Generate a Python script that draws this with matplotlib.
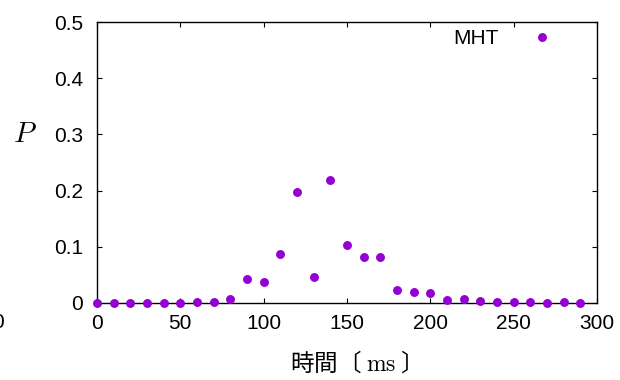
import matplotlib
matplotlib.use("Agg")
import matplotlib.pyplot as plt

plt.rcParams["font.family"] = ["Liberation Sans", "Noto Sans CJK JP", "DejaVu Sans"]
plt.rcParams["mathtext.fontset"] = "cm"

# sampled arrival time distribution (10 ms bins)
time_ms = [0, 10, 20, 30, 40, 50, 60, 70, 80, 90,
           100, 110, 120, 130, 140, 150, 160, 170, 180, 190,
           200, 210, 220, 230, 240, 250, 260, 270, 280, 290]
prob = [0.0, 0.0, 0.0, 0.0, 0.0, 0.0, 0.002, 0.001, 0.007, 0.043,
        0.038, 0.088, 0.197, 0.047, 0.219, 0.104, 0.081, 0.081, 0.023, 0.019,
        0.018, 0.006, 0.008, 0.003, 0.002, 0.002, 0.001, 0.0005, 0.001, 0.0]
series_name = "MHT"
x_ticks = [0, 50, 100, 150, 200, 250, 300]
y_ticks = [0, 0.1, 0.2, 0.3, 0.4, 0.5]
y_ticklabels = ["0", "0.1", "0.2", "0.3", "0.4", "0.5"]

FS = 15

fig = plt.figure(figsize=(6.2, 3.8), dpi=100)
ax = fig.add_axes([97 / 620, 1 - 303 / 380, 500 / 620, 281 / 380])

ax.plot(time_ms, prob, "o", color="#9400d3", markersize=5.4,
        label=series_name, clip_on=False, zorder=3)

ax.set_xlim(0, 300)
ax.set_ylim(0, 0.5)
ax.set_xticks(x_ticks)
ax.set_yticks(y_ticks)
ax.set_yticklabels(y_ticklabels)
ax.tick_params(direction="in", length=3.5, width=0.8, labelsize=FS,
               top=True, right=True, pad=8)
ax.tick_params(axis="y", pad=10)
for s in ax.spines.values():
    s.set_linewidth(1.0)

ax.legend(loc="upper right", bbox_to_anchor=(0.932, 0.975), borderaxespad=0,
          borderpad=0, frameon=False, markerfirst=False, handlelength=2.0,
          handletextpad=1.1, fontsize=FS)

fig.text(25 / 620, 1 - 134 / 380, r"$P$", fontsize=21, ha="center", va="center")
fig.text(350 / 620, 1 - 362 / 380, "時間〔 $\\mathrm{ms}$ 〕", fontsize=17,
         ha="center", va="center", family=["Noto Sans CJK JP", "DejaVu Sans"])
# leftover tick label cut off at the figure edge
fig.text(4 / 620, 1 - 323 / 380, "0", fontsize=FS, ha="right", va="center")

fig.savefig("out.png", dpi=100)
